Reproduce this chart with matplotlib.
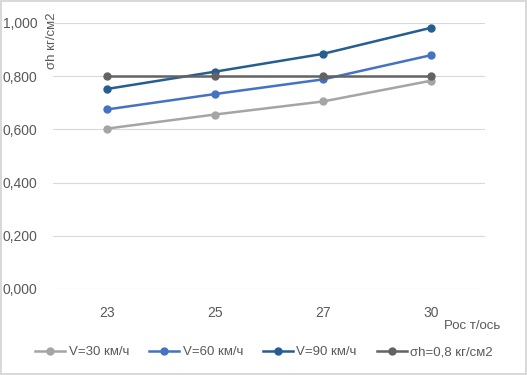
import matplotlib
matplotlib.use("Agg")
import matplotlib.pyplot as plt
import numpy as np

# данные
categories = ["23", "25", "27", "30"]
v30 = [0.603, 0.656, 0.705, 0.783]
v60 = [0.675, 0.733, 0.788, 0.879]
v90 = [0.752, 0.817, 0.884, 0.982]
sigma_h = [0.800, 0.800, 0.800, 0.800]
y_ticks = [0.0, 0.2, 0.4, 0.6, 0.8, 1.0]

series = [
    ("V=30 км/ч", v30, "#A5A5A5"),
    ("V=60 км/ч", v60, "#4472C4"),
    ("V=90 км/ч", v90, "#255E91"),
    ("σh=0,8 кг/см2", sigma_h, "#636363"),
]

plt.rcParams["font.family"] = ["Liberation Sans", "DejaVu Sans"]
text_color = "#595959"

fig = plt.figure(figsize=(5.27, 3.75), dpi=100)
fig.patch.set_edgecolor("#D9D9D9")
fig.patch.set_linewidth(1.5)

ax = fig.add_axes([53 / 527, 86 / 375, 432 / 527, 266 / 375])
x = np.arange(len(categories))

for label, vals, color in series:
    ax.plot(x, vals, color=color, lw=1.8, marker="o", markersize=5, label=label)

ax.set_xlim(-0.5, len(categories) - 0.5)
ax.set_ylim(0, 1.0)
ax.set_yticks(y_ticks)
ax.set_yticklabels([f"{t:.3f}".replace(".", ",") for t in y_ticks])
ax.set_xticks(x)
ax.set_xticklabels(categories)
ax.grid(axis="y", color="#D9D9D9", lw=0.8)
ax.set_axisbelow(True)
for s in ax.spines.values():
    s.set_visible(False)
ax.tick_params(length=0, labelsize=10, colors=text_color)
ax.tick_params(axis="y", pad=11)
ax.tick_params(axis="x", pad=12)

fig.text(52 / 527, 1 - 41 / 375, "σh кг/см2", rotation=90, ha="center", va="center",
         fontsize=9.5, color=text_color)
fig.text(472 / 527, 1 - 326 / 375, "Рос т/ось", ha="center", va="center",
         fontsize=9.5, color=text_color)

leg = fig.legend(loc="center", bbox_to_anchor=(264 / 527, 1 - 352 / 375), ncol=4,
                 frameon=False, fontsize=9.5, handlelength=2.3, handletextpad=0.25,
                 columnspacing=1.5, borderaxespad=0)
for t in leg.get_texts():
    t.set_color(text_color)

fig.savefig("out.png", dpi=100, edgecolor=fig.get_edgecolor())
